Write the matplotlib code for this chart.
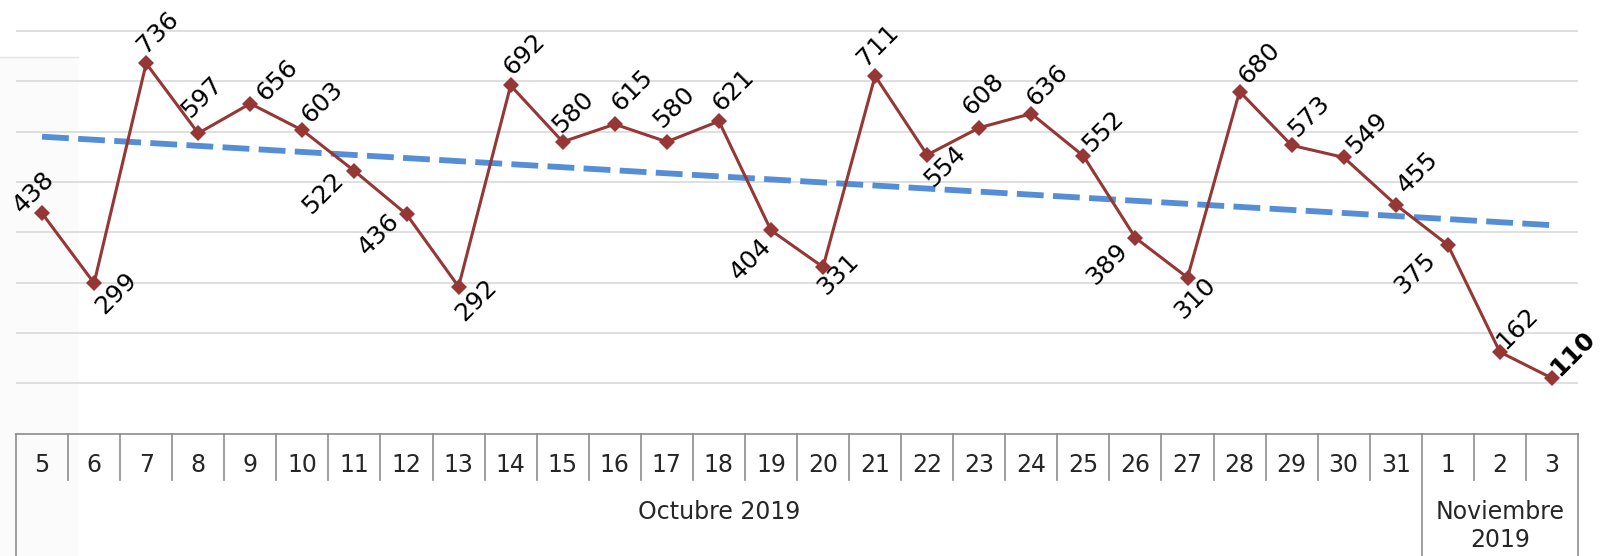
import matplotlib
matplotlib.use("Agg")
import matplotlib.pyplot as plt
import numpy as np
from matplotlib.patches import Rectangle
from matplotlib.lines import Line2D

# Data
days = ["5", "6", "7", "8", "9", "10", "11", "12", "13", "14", "15", "16", "17", "18",
        "19", "20", "21", "22", "23", "24", "25", "26", "27", "28", "29", "30", "31",
        "1", "2", "3"]
values = [438, 299, 736, 597, 656, 603, 522, 436, 292, 692, 580, 615, 580, 621,
          404, 331, 711, 554, 608, 636, 552, 389, 310, 680, 573, 549, 455, 375,
          162, 110]
months = ["Octubre 2019", "Noviembre\n2019"]
month_sizes = [27, 3]

# label centre offsets from each point, in pixels (x right, y down)
label_offsets = [(-8, -21), (22, 10), (12, -31), (4, -36), (27, -23), (20, -28),
                 (-31, 22), (-28, 20), (18, 13), (14, -31), (10, -30), (17, -34),
                 (7, -35), (14, -31), (-20, 29), (15, 7), (3, -31), (18, 11),
                 (4, -34), (16, -29), (20, -25), (-28, 26), (8, 21), (20, -28),
                 (17, -29), (23, -24), (22, -32), (-33, 28), (17, -24), (21, -25)]

W, H = 1600, 556
LINE_RED = "#953735"
TREND_BLUE = "#558ED5"
GRID = "#d9d9d9"
TABLE = "#8c8c8c"

fig = plt.figure(figsize=(W / 100, H / 100), dpi=100)

# faint panel artefact on the left edge
fig.patches.append(Rectangle((0, 0), 78 / W, (H - 57) / H, transform=fig.transFigure,
                             facecolor="#fbfbfb", edgecolor="none", zorder=-5))
fig.lines.append(Line2D([0, 78 / W], [(H - 57) / H] * 2, transform=fig.transFigure,
                        color="#e6e6e6", lw=1.0, zorder=-4))

ax_bottom_px = 433.5
ax = fig.add_axes([16 / W, (H - ax_bottom_px) / H, 1562 / W, ax_bottom_px / H])
ax.set_zorder(1)
ax.patch.set_alpha(0)

x = np.arange(len(values))
ax.set_xlim(-0.5, len(values) - 0.5)
ax.set_ylim(0, 862)
ax.set_yticks(range(100, 900, 100))
ax.yaxis.grid(True, color=GRID, lw=1.2)
ax.set_axisbelow(True)
ax.tick_params(left=False, bottom=False, labelleft=False, labelbottom=False)
for side in ["left", "right", "top"]:
    ax.spines[side].set_visible(False)
ax.spines["bottom"].set_color(TABLE)
ax.spines["bottom"].set_linewidth(1.2)

# trend line (linear fit)
coef = np.polyfit(x, values, 1)
ax.plot(x, np.polyval(coef, x), color=TREND_BLUE, lw=4.2, ls=(0, (4.6, 1.6)),
        solid_capstyle="butt", zorder=2)

ax.plot(x, values, color=LINE_RED, lw=2.2, marker="D", ms=8.5, mew=0, zorder=3)

for i, v in enumerate(values):
    dx, dy = label_offsets[i]
    last = i == len(values) - 1
    ax.annotate(str(v), (i, v), xytext=(dx, -dy), textcoords="offset pixels",
                rotation=45, ha="center", va="center", fontsize=18,
                fontweight="bold" if last else "normal", color="black",
                annotation_clip=False, zorder=4)


# category table below the plot
def ay(py):
    return (ax_bottom_px - py) / ax_bottom_px


trans = ax.get_xaxis_transform()
bounds = np.cumsum([0] + month_sizes) - 0.5
for b in np.arange(-0.5, len(values), 1.0):
    full = np.any(np.isclose(b, bounds))
    ax.plot([b, b], [ay(433.5), ay(556 if full else 480)], transform=trans,
            color=TABLE, lw=1.2, clip_on=False)

for i, d in enumerate(days):
    ax.text(i, ay(465), d, transform=trans, ha="center", va="center",
            fontsize=17, color="#262626")

for k, m in enumerate(months):
    cx = (bounds[k] + bounds[k + 1]) / 2
    py = 512 if "\n" not in m else 526
    ax.text(cx, ay(py), m, transform=trans, ha="center", va="center",
            fontsize=17, color="#262626", linespacing=1.2)

fig.savefig("out.png", dpi=100)
